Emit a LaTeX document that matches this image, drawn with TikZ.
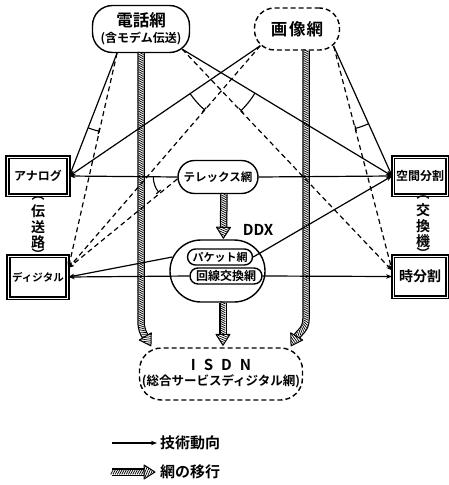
\documentclass[tikz,border=0pt]{standalone}
\usepackage{fontspec}
\setmainfont{Noto Sans CJK JP}[BoldFont={Noto Sans CJK JP Bold}]
\usetikzlibrary{calc,arrows.meta,shapes.misc,decorations.markings}
\newcommand\fs[1]{\fontsize{#1}{#1}\selectfont}
\tikzset{
  hatchbody/.style={decoration={markings,
     mark=between positions 0 and 1 step 2.2pt with {\draw[black,line width=0.75pt] (-1.3pt,-2.4pt)--(1.3pt,2.4pt);}}},
  hatchhead/.style={decoration={markings,
     mark=at position 1 with {
       \fill[white] (-1pt,-7pt)--(10pt,0pt)--(-1pt,7pt)--cycle;
       \begin{scope}
         \clip (-1pt,-7pt)--(10pt,0pt)--(-1pt,7pt)--cycle;
         \foreach \k in {-4,...,6}{\draw[black,line width=0.7pt] (\k*2.2pt-3pt,-7pt)--(\k*2.2pt+3pt,7pt);}
       \end{scope}
       \draw[black,line width=1pt,line join=round] (-1pt,-7pt)--(10pt,0pt)--(-1pt,7pt)--cycle;}}},
  migr/.style={draw=black, line width=7.5pt,
     postaction={draw=white, line width=5pt},
     postaction={decorate, hatchbody},
     postaction={decorate, hatchhead}},
  netbox/.style={draw, line width=1.4pt, rounded corners=20pt, inner sep=0pt, align=center, font=\bfseries},
  pill/.style={draw, line width=1.4pt, rounded rectangle, inner sep=0pt, align=center, font=\bfseries},
  tbox/.style={draw, line width=1.8pt, double, double distance=0.8pt, inner sep=0pt, font=\bfseries},
  txt/.style={inner sep=0pt, align=center, font=\bfseries},
  vtxt/.style={inner sep=0pt, align=center, font=\bfseries\fontsize{14pt}{15.5pt}\selectfont},
  boxdash/.style={dash pattern=on 5pt off 3pt},
  tech/.style={line width=1.2pt, -{Stealth[length=6pt,width=4.5pt]}},
  dtech/.style={tech, dash pattern=on 5pt off 3.5pt},
  turn/.style={line width=1.1pt, -{Bar[width=6pt]}},
}
\begin{document}
\begin{tikzpicture}[x=1pt,y=-1pt]
\useasboundingbox (0,0) rectangle (449,485);

% networks
\node[netbox, minimum width=97pt, minimum height=47pt] (tel) at (141,29)
  {\fs{16.5pt}電話網\\[4pt]\fs{12pt}(含モデム伝送)};
\node[netbox, boxdash, minimum width=85pt, minimum height=42pt] (img) at (297,29)
  {\fs{16.5pt}画\hspace{2pt}像\hspace{1pt}網};
\node[pill, minimum width=80pt, minimum height=33pt] (telex) at (218,177)
  {\fs{11.5pt}テレックス網};
\node[pill, minimum width=95pt, minimum height=62pt] (ddx) at (217.5,271) {};
\node[pill, fill=white, minimum width=65pt, minimum height=16pt] (pkt) at (220,257)
  {\fs{11pt}パケット網};
\node[pill, fill=white, minimum width=72pt, minimum height=16pt] (ckt) at (226,276)
  {\fs{12pt}回線交換網};
\node[txt] (ddxl) at (258,230) {\fs{15pt}DDX};
\node[netbox, boxdash, rounded corners=22pt, minimum width=163pt, minimum height=52pt] (isdn) at (221,374)
  {\fs{15pt}I\hspace{8pt}S\hspace{8pt}D\hspace{8pt}N\\[3pt]\fs{12.5pt}(総合サービスディジタル網)};

% transmission / switching
\node[tbox, minimum width=61pt, minimum height=38pt] (ana) at (38,176) {\fs{12pt}アナログ};
\node[tbox, minimum width=59pt, minimum height=42pt] (dig) at (38,277) {\fs{10.5pt}ディジタル};
\node[tbox, minimum width=54pt, minimum height=38pt] (spc) at (420,176) {\fs{12pt}空間分割};
\node[tbox, minimum width=54pt, minimum height=41pt] (tdm) at (420,276.5) {\fs{14pt}時分割};

\node[vtxt] (trn) at (38,227) {伝\\送\\路};
\node[txt] (trnA) at (38,199) {\fs{13pt}︵};
\node[txt] (trnB) at (38,254) {\fs{13pt}︶};
\node[vtxt] (swt) at (423,226) {交\\換\\機};
\node[txt] (swtA) at (423,198) {\fs{13pt}︵};
\node[txt] (swtB) at (423,253) {\fs{13pt}︶};

% helper points
\coordinate (telL) at ($(tel.south)+(-24,0)$);
\coordinate (telR) at ($(tel.south east)+(-8,-4)$);
\coordinate (imgL) at ($(img.south west)+(6.5,-5)$);
\coordinate (imgR) at ($(img.south east)+(-6.5,-4.5)$);
\coordinate (imgB) at ($(img.south)+(9,0)$);
\coordinate (telexD) at ($(telex.west)+(0,2)$);
\coordinate (digD) at ($(dig.east)+(0,-9)$);
\coordinate (tdmD) at ($(tdm.west)+(0,-6)$);
\coordinate (pktL) at ($(ddx.west |- pkt.west)+(3,0)$);

% network migration (hatched)
\coordinate (a1) at ($(tel.south |- isdn.north)+(0,-28)$);
\coordinate (b1) at ($(isdn.north west)+(7,-10)$);
\coordinate (a2) at ($(imgB |- isdn.north)+(0,-28)$);
\coordinate (b2) at ($(isdn.north east)+(-7,-10)$);
\draw[migr] (tel.south) -- (a1) .. controls +(0,10) and +(-3,-5) .. (b1);
\draw[migr] (imgB) -- (a2) .. controls +(0,10) and +(3,-5) .. (b2);
\draw[migr] ($(telex.south)+(6,0)$) -- ($(ddx.north)+(6,-11)$);
\draw[migr] ($(ddx.south)+(5.5,0)$) -- ($(isdn.north)+(2,-12)$);

% technology trends
\draw[tech] (telL) -- (ana.east);
\draw[dtech] (telL) -- (digD);
\draw[tech] (telR) -- (spc.west);
\draw[dtech] (telR) -- (tdmD);
\draw[tech] (imgL) -- (ana.east);
\draw[dtech] (imgL) -- (digD);
\draw[tech] (imgR) -- (spc.west);
\draw[dtech] (imgR) -- (tdmD);
\draw[tech] (telex.west) -- (ana.east);
\draw[dtech] (telexD) -- (digD);
\draw[tech] (telex.east) -- (spc.west);
\draw[tech] (pktL) -- (dig.east);
\draw[tech] (ckt.west) -- (dig.east);
\draw[tech] (pkt.east) -- (spc.west);
\draw[tech] (ckt.east) -- (tdm.west);

% turning arcs
\draw[turn] let \p1=($(ana.east)-(telL)$), \p2=($(digD)-(telL)$),
  \n1={atan2(\y1,\x1)}, \n2={atan2(\y2,\x2)} in
  ($(telL)+(\n1:80pt)$) arc[start angle=\n1, end angle=\n2, radius=80pt];
\draw[turn] let \p1=($(spc.west)-(telR)$), \p2=($(tdmD)-(telR)$),
  \n1={atan2(\y1,\x1)}, \n2={atan2(\y2,\x2)} in
  ($(telR)+(\n1:85pt)$) arc[start angle=\n1, end angle=\n2, radius=85pt];
\draw[turn] let \p1=($(ana.east)-(imgL)$), \p2=($(digD)-(imgL)$),
  \n1={atan2(\y1,\x1)}, \n2={atan2(\y2,\x2)} in
  ($(imgL)+(\n1:85pt)$) arc[start angle=\n1, end angle=\n2, radius=85pt];
\draw[turn] let \p1=($(spc.west)-(imgR)$), \p2=($(tdmD)-(imgR)$),
  \n1={atan2(\y1,\x1)}, \n2={atan2(\y2,\x2)} in
  ($(imgR)+(\n1:85pt)$) arc[start angle=\n1, end angle=\n2, radius=85pt];
\draw[turn] let \p1=($(ana.east)-(telex.west)$), \p2=($(digD)-(telex.west)$),
  \n1={atan2(\y1,\x1)}, \n2={atan2(\y2,\x2)+360} in
  ($(telex.west)+(\n1:24pt)$) arc[start angle=\n1, end angle=\n2, radius=24pt];

% legend
\coordinate (la) at (112,443);
\coordinate (lb) at (157,443);
\draw[tech] (la) -- (lb);
\node[txt, anchor=west] (lt1) at (160,443) {\fs{15pt}技術動向};
\coordinate (lc) at (112,472);
\coordinate (ld) at (145,472);
\draw[migr] (lc) -- (ld);
\node[txt, anchor=west] (lt2) at (160,472) {\fs{15pt}網の移行};
\end{tikzpicture}
\end{document}
